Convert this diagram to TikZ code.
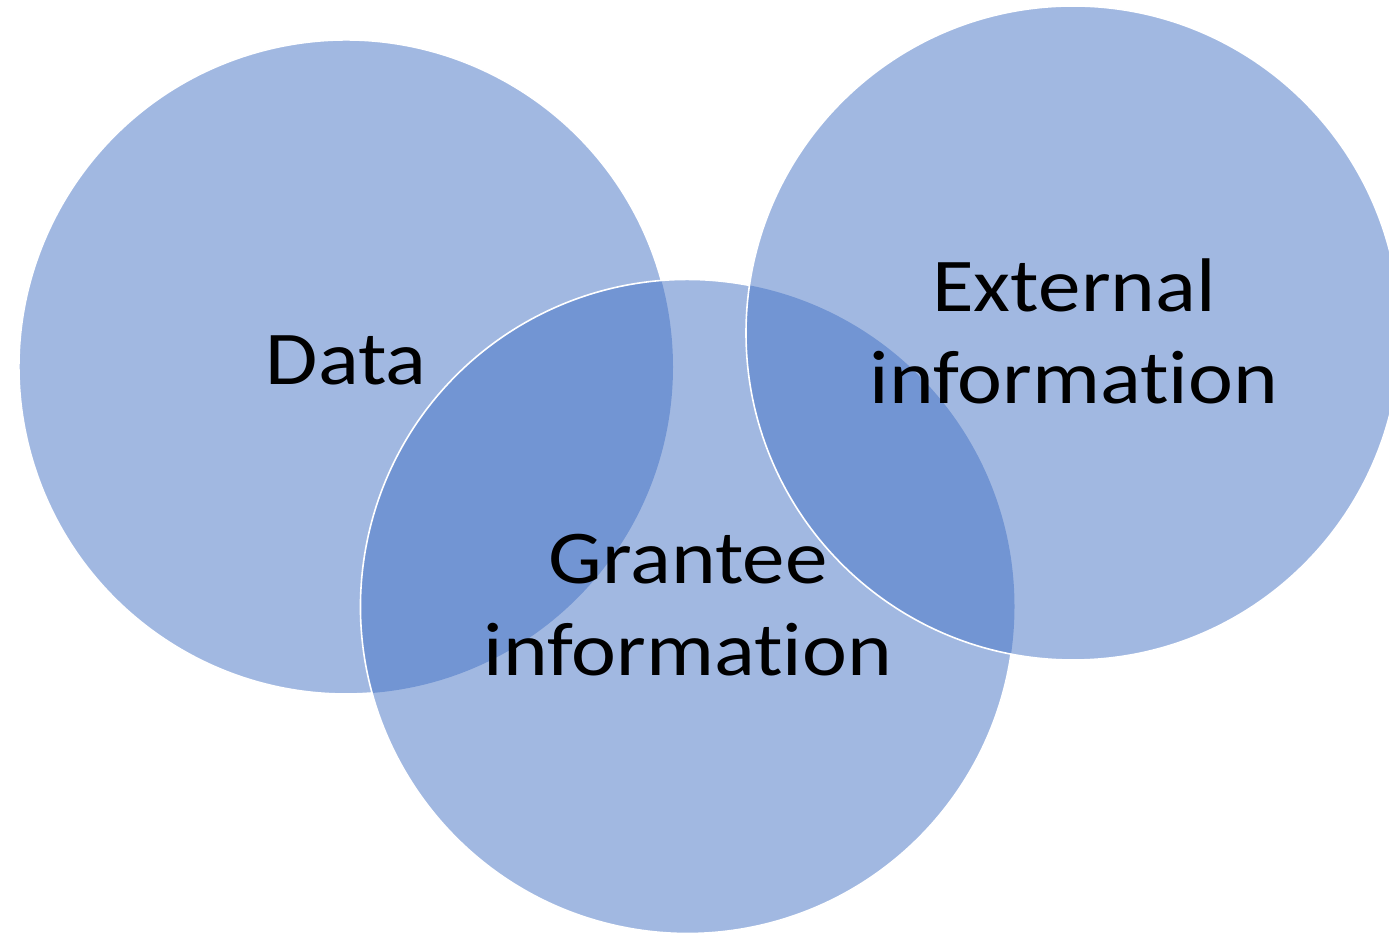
\documentclass[tikz,border=0pt]{standalone}
\usepackage{fontspec}
\setmainfont{Carlito}[FakeStretch=1.12,Ligatures=NoCommon]
\definecolor{vennblue}{HTML}{4472C4}
\begin{document}
\begin{tikzpicture}[x=1pt,y=1pt,
  venn/.style={fill=vennblue,fill opacity=0.5,draw=none},
  rim/.style={draw=white,line width=1.6pt},
  lbl/.style={font=\fontsize{76}{92.7}\selectfont,align=center,anchor=base,inner sep=0pt,text=black}]
\useasboundingbox (0,0) rectangle (1389,934);
\coordinate (D) at (346,567);
\coordinate (G) at (687.5,327.5);
\coordinate (E) at (1073,601);
\fill[venn] (D) circle[radius=327];
\fill[venn] (G) circle[radius=327];
\fill[venn] (E) circle[radius=327];
\draw[rim] (D) ++(15.4:327) arc[start angle=15.4,end angle=274.6,radius=327];
\draw[rim] (G) ++(79.1:327) arc[start angle=79.1,end angle=351.7,radius=327];
\draw[rim] (E) circle[radius=327];
\node[lbl] (tD) at (346,549) {Data};
\node[lbl] (tE) at (1074,530) {External\\information};
\node[lbl] (tG) at (688,258) {Grantee\\information};
\end{tikzpicture}
\end{document}
